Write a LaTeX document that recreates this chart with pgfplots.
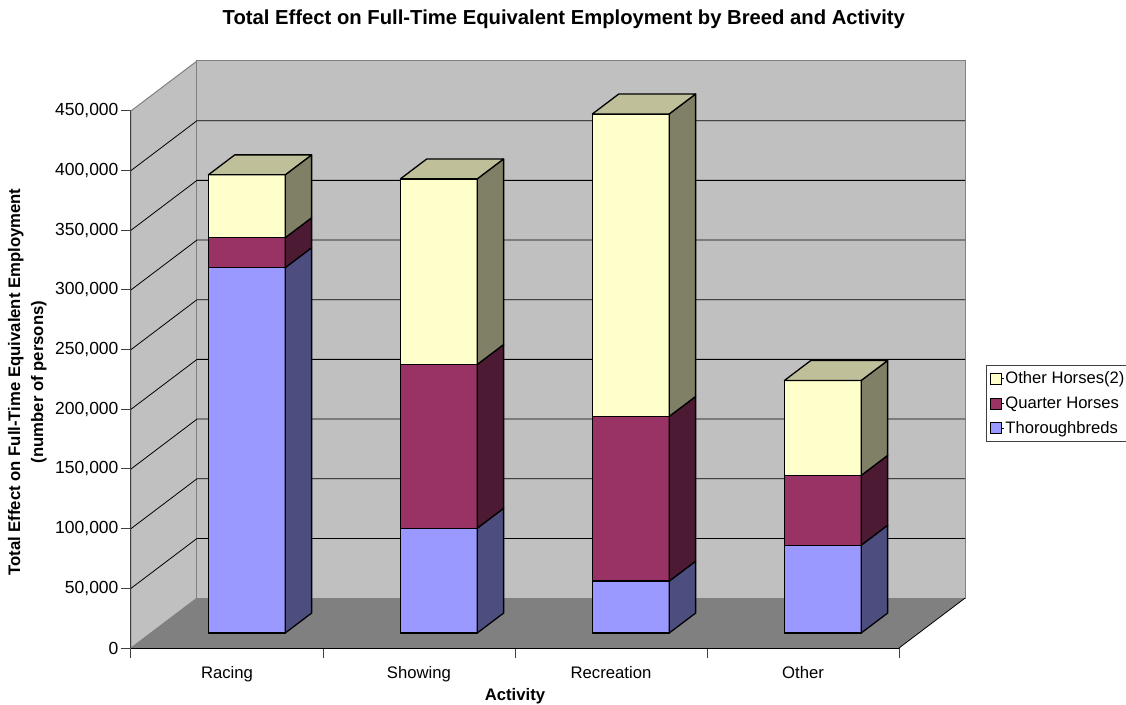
\documentclass[border=0pt]{standalone}
\usepackage{fontspec}
\setmainfont{Liberation Sans}
\usepackage{pgfplots}
\pgfplotsset{compat=1.18}

\definecolor{wall}{HTML}{C0C0C0}
\definecolor{floorc}{HTML}{808080}
\definecolor{axisc}{HTML}{404040}
\definecolor{thoro}{HTML}{9999FF}
\definecolor{thoroside}{HTML}{4D4D80}
\definecolor{quarter}{HTML}{993366}
\definecolor{quarterside}{HTML}{4D1A33}
\definecolor{other}{HTML}{FFFFCC}
\definecolor{otherside}{HTML}{808066}
\definecolor{othertop}{HTML}{BFBF99}

% d = depth into the chart, 0 front edge of the floor, 1 back wall
\def\catpos{0}
\pgfplotsset{
  table/depth/.style={x expr=\catpos+\thisrow{x}+0.34375*\thisrow{d}, y expr=\thisrow{y}+41800*\thisrow{d}, row sep=\\},
}
% polygon with explicit style and rows x y d
\newcommand{\poly}[2]{\addplot[forget plot, #1] table[depth]{x y d\\ #2} -- cycle;}
% segment: category start, base, top, front colour, side colour
\newcommand{\seg}[5]{%
  \def\catpos{#1}%
  \poly{draw=black, line width=1.3pt, line join=round, fill=#4}{0.3 #2 0.3\\ 0.7 #2 0.3\\ 0.7 #3 0.3\\ 0.3 #3 0.3\\}
  \poly{draw=black, line width=1.3pt, line join=round, fill=#5}{0.7 #2 0.3\\ 0.7 #2 0.7\\ 0.7 #3 0.7\\ 0.7 #3 0.3\\}
  \def\catpos{0}%
}
% lid of a column
\newcommand{\lid}[3]{%
  \def\catpos{#1}%
  \poly{draw=black, line width=1.3pt, line join=round, fill=#3}{0.3 #2 0.3\\ 0.7 #2 0.3\\ 0.7 #2 0.7\\ 0.3 #2 0.7\\}
  \def\catpos{0}%
}
% gridline over the left wall and along the back wall
\newcommand{\grid}[1]{%
  \addplot[forget plot, black, line width=0.8pt] table[depth]{x y d\\ 0 #1 0\\ 0 #1 1\\ 4 #1 1\\};
}

\begin{document}
\begin{tikzpicture}
\path[use as bounding box] (-131pt,-56pt) rectangle (995pt,648pt);
\begin{axis}[
  scale only axis,
  width=834pt,
  height=587pt,
  xmin=0, xmax=4.34375,
  ymin=0, ymax=491800,
  clip=false,
  axis x line*=bottom,
  axis y line*=left,
  axis line style={draw=none},
  font=\fontsize{16.7}{20}\selectfont,
  tick align=outside,
  ytick={0,50000,100000,150000,200000,250000,300000,350000,400000,450000},
  yticklabels={0,{50,000},{100,000},{150,000},{200,000},{250,000},{300,000},{350,000},{400,000},{450,000}},
  scaled y ticks=false,
  major tick length=10pt,
  y tick style={axisc, line width=1pt},
  y tick label style={xshift=1pt, font=\fontsize{17.5}{20}\selectfont},
  x tick style={axisc, line width=1pt, /pgfplots/major tick length=10pt},
  xtick={0,1,2,3,4},
  xticklabels={},
  extra x ticks={0.5,1.5,2.5,3.5},
  extra x tick labels={Racing,Showing,Recreation,Other},
  extra x tick style={tick style={draw=none}, tick label style={yshift=-5pt}},
  title={\fontsize{20.25}{24}\selectfont\bfseries Total Effect on Full-Time Equivalent Employment by Breed and Activity},
  title style={at={(0.519,1.0611)}, anchor=center},
  xlabel={\bfseries Activity},
  xlabel style={at={(0.4604,-0.0813)}, anchor=center},
  ylabel={\bfseries Total Effect on Full-Time Equivalent Employment\\[3pt]\bfseries (number of persons)},
  ylabel style={at={(-0.1243,0.453)}, anchor=center, align=center, rotate=0},
  legend style={at={(1.0253,0.482)}, anchor=north west, draw=axisc, line width=0.8pt,
    font=\fontsize{16.6}{20}\selectfont, inner xsep=3.5pt, inner ysep=5pt, row sep=8.5pt,
    nodes={inner sep=1.5pt}, cells={anchor=west}},
  legend image code/.code={\path (0pt,0pt) -- (13pt,0pt);\draw[#1, line width=1pt] (0pt,-5.5pt) rectangle (11pt,5.5pt);},
]
% walls and floor
\poly{draw=floorc, line width=1pt, fill=wall}{0 0 0\\ 0 0 1\\ 0 450000 1\\ 0 450000 0\\}
\poly{draw=floorc, line width=1pt, fill=wall}{0 0 1\\ 4 0 1\\ 4 450000 1\\ 0 450000 1\\}
\poly{draw=none, fill=floorc}{0 0 0\\ 4 0 0\\ 4 0 1\\ 0 0 1\\}
\addplot[forget plot, black, line width=0.8pt] table[depth]{x y d\\ 4 0 0\\ 4 0 1\\};
% gridlines
\grid{50000}\grid{100000}\grid{150000}\grid{200000}\grid{250000}\grid{300000}\grid{350000}\grid{400000}
% axis lines
\addplot[forget plot, axisc, line width=1pt] table[depth]{x y d\\ 0 0 0\\ 0 450000 0\\};
\addplot[forget plot, black, line width=1pt] table[depth]{x y d\\ 0 0 0\\ 4 0 0\\};
% columns, cumulative tops: Thoroughbreds, Quarter Horses, Other Horses(2)
% Racing
\seg{0}{0}{306100}{thoro}{thoroside}
\seg{0}{306100}{331200}{quarter}{quarterside}
\seg{0}{331200}{383900}{other}{otherside}
\lid{0}{383900}{othertop}
% Showing
\seg{1}{0}{87800}{thoro}{thoroside}
\seg{1}{87800}{225000}{quarter}{quarterside}
\seg{1}{225000}{380500}{other}{otherside}
\lid{1}{380500}{othertop}
% Recreation
\seg{2}{0}{43500}{thoro}{thoroside}
\seg{2}{43500}{181500}{quarter}{quarterside}
\seg{2}{181500}{434900}{other}{otherside}
\lid{2}{434900}{othertop}
% Other
\seg{3}{0}{73600}{thoro}{thoroside}
\seg{3}{73600}{132100}{quarter}{quarterside}
\seg{3}{132100}{211600}{other}{otherside}
\lid{3}{211600}{othertop}
% legend
\addlegendimage{draw=black, fill=other}
\addlegendentry{Other Horses(2)\hspace*{8pt}}
\addlegendimage{draw=black, fill=quarter}
\addlegendentry{Quarter Horses}
\addlegendimage{draw=black, fill=thoro}
\addlegendentry{Thoroughbreds}
\end{axis}
\end{tikzpicture}
\end{document}
